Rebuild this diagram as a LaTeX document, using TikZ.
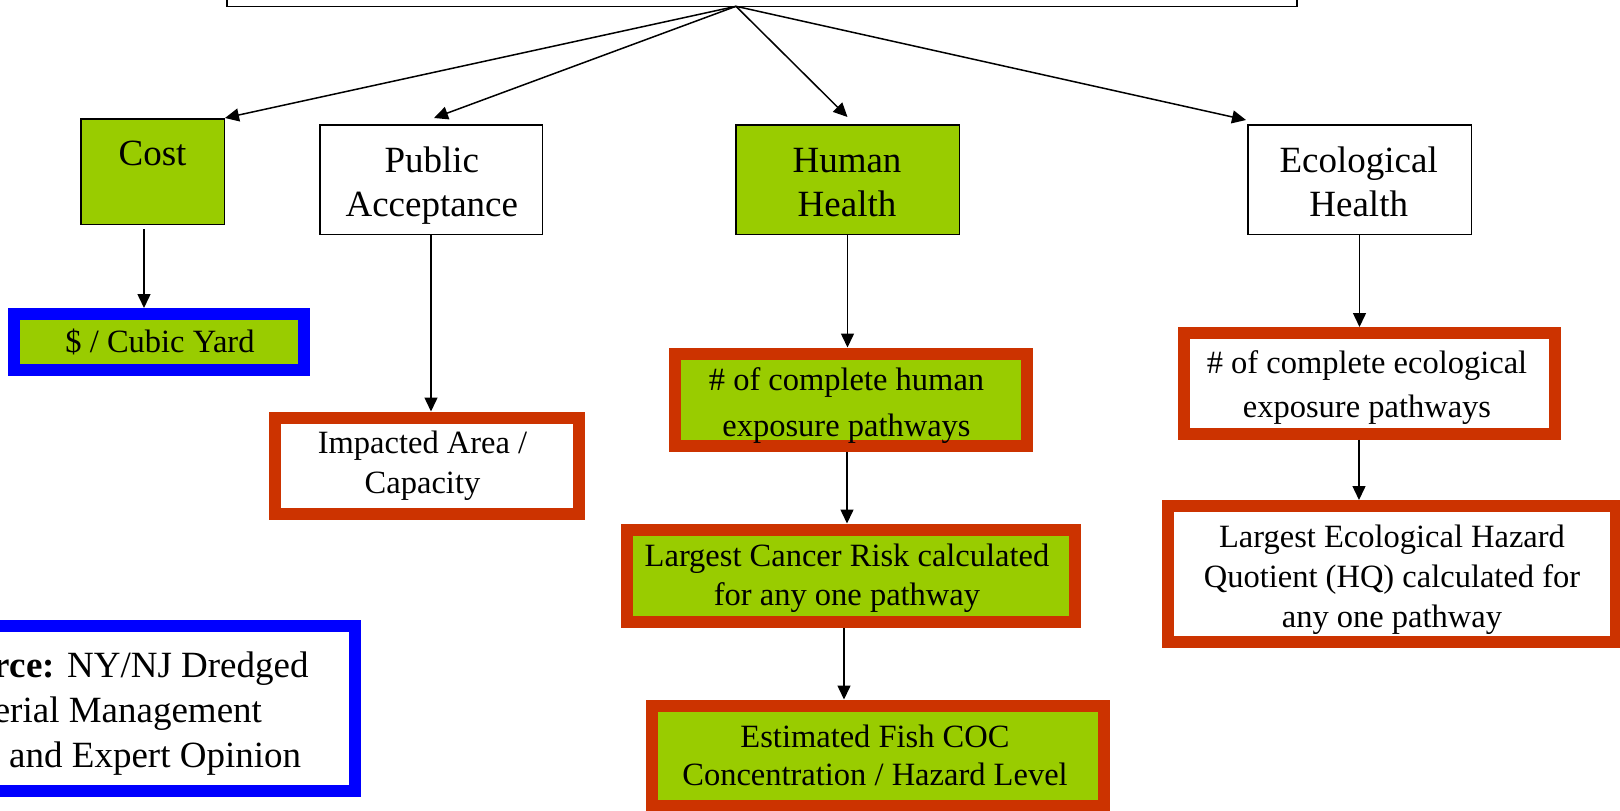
\documentclass[tikz,border=0pt]{standalone}
\usepackage{fontspec}
\setmainfont{Liberation Serif}
\usetikzlibrary{arrows.meta}
\definecolor{leafgreen}{HTML}{99CC00}
\definecolor{brick}{HTML}{CC3300}
\definecolor{pureblue}{HTML}{0000FF}
\tikzset{
  catbox/.style={draw=black, line width=1.5pt, rectangle, inner sep=0pt},
  critbox/.style={catbox, fill=leafgreen},
  plainbox/.style={catbox, fill=white},
  redframe/.style={draw=brick, line width=12pt, rectangle, inner sep=0pt},
  blueframe/.style={draw=pureblue, line width=12pt, rectangle, inner sep=0pt},
  bigtxt/.style={inner sep=0pt, align=center, anchor=north, font=\fontsize{37}{44}\selectfont},
  smalltxt/.style={inner sep=0pt, align=center, anchor=north, font=\fontsize{32.5}{#1}\selectfont},
  arr/.style={line width=1.5pt, -{Triangle[length=14pt,width=13pt]}},
}
\begin{document}
\begin{tikzpicture}[x=1pt, y=-1pt]
\useasboundingbox (0,0) rectangle (1620,811);
\clip (0,0) rectangle (1620,811);

% root box (only its lower edge lies inside the frame)
\node (goal) [plainbox, minimum width=1070pt, minimum height=66.3pt] at (762,-26.85) {};
\coordinate (apex) at (736,6.3);

% first level criteria
\node (cost) [critbox, minimum width=143.5pt, minimum height=105.5pt] at (152.5,171.5) {};
\node (pub)  [plainbox, minimum width=222.5pt, minimum height=109.5pt] at (431,179.5) {};
\node (hum)  [critbox, minimum width=223.5pt, minimum height=109.5pt] at (847.5,179.5) {};
\node (eco)  [plainbox, minimum width=223.5pt, minimum height=109.5pt] at (1359.5,179.5) {};

\node (costT) [bigtxt] at (152.5,134.9) {\strut Cost};
\node (pubT)  [bigtxt] at (431.8,141.9) {\strut Public\\Acceptance};
\node (humT)  [bigtxt] at (847,141.9) {\strut Human\\Health};
\node (ecoT)  [bigtxt] at (1358.7,141.9) {\strut Ecological\\Health};

% measures
\node (usd)    [blueframe, fill=leafgreen, minimum width=290pt, minimum height=56pt] at (159,342) {};
\node (imp)    [redframe, fill=white, minimum width=303.5pt, minimum height=96pt] at (426.75,465.5) {};
\node (hum2)   [redframe, fill=leafgreen, minimum width=351.6pt, minimum height=92.3pt] at (850.8,399.65) {};
\node (cancer) [redframe, fill=leafgreen, minimum width=447.5pt, minimum height=92.5pt] at (850.75,575.75) {};
\node (fish)   [redframe, fill=leafgreen, minimum width=451.9pt, minimum height=100.5pt] at (877.65,755.75) {};
\node (eco2)   [redframe, fill=white, minimum width=371pt, minimum height=100.5pt] at (1369.5,383.25) {};
\node (ecohq)  [redframe, fill=white, minimum width=448pt, minimum height=135.5pt] at (1392,573.75) {};
\node (src)    [blueframe, fill=white, minimum width=455pt, minimum height=165.5pt] at (127.5,708.25) {};

\node (usdT)    [smalltxt=39] at (160,325.4) {\strut \$ / Cubic Yard};
\node (impT)    [smalltxt=39.4] at (422.5,426.2) {\strut Impacted Area /\\Capacity};
\node (hum2T)   [smalltxt=45.7] at (846.5,358.3) {\strut \# of complete human\\exposure pathways};
\node (cancerT) [smalltxt=39.3] at (847,538.5) {\strut Largest Cancer Risk calculated\\for any one pathway};
\node (fishT)   [smalltxt=38.3] at (875,720.2) {\strut Estimated Fish COC\\Concentration / Hazard Level};
\node (eco2T)   [smalltxt=43.3] at (1367,343.4) {\strut \# of complete ecological\\exposure pathways};
\node (ecohqT)  [smalltxt=40] at (1392,519.5) {\strut Largest Ecological Hazard\\Quotient (HQ) calculated for\\any one pathway};
\node (srcT) [inner sep=0pt, align=left, anchor=north west, font=\fontsize{37}{45}\selectfont]
  at (-66,645.7) {\strut\textbf{Source:} NY/NJ Dredged\\Material Management\\Plan and Expert Opinion};

% connectors from the root
\draw[arr] (apex) -- (cost.north east);
\draw[arr] (apex) -- ([xshift=3pt,yshift=6pt]pub.north);
\draw[arr] (apex) -- ([yshift=7pt]hum.north);
\draw[arr] (apex) -- ([xshift=-1pt,yshift=4pt]eco.north west);

% vertical connectors
\draw[arr] ([xshift=-8.5pt,yshift=-4pt]cost.south) -- ([xshift=-15pt]usd.north);
\draw[arr] (pub.south) -- ([xshift=4.25pt]imp.north);
\draw[arr] (hum.south) -- ([xshift=-3.3pt]hum2.north);
\draw[arr] ([xshift=-3.8pt]hum2.south) -- ([xshift=-3.75pt]cancer.north);
\draw[arr] ([xshift=-6.75pt]cancer.south) -- ([xshift=-33.65pt]fish.north);
\draw[arr] (eco.south) -- ([xshift=-10pt]eco2.north);
\draw[arr] ([xshift=-10.5pt]eco2.south) -- ([xshift=-33pt]ecohq.north);
\end{tikzpicture}
\end{document}
